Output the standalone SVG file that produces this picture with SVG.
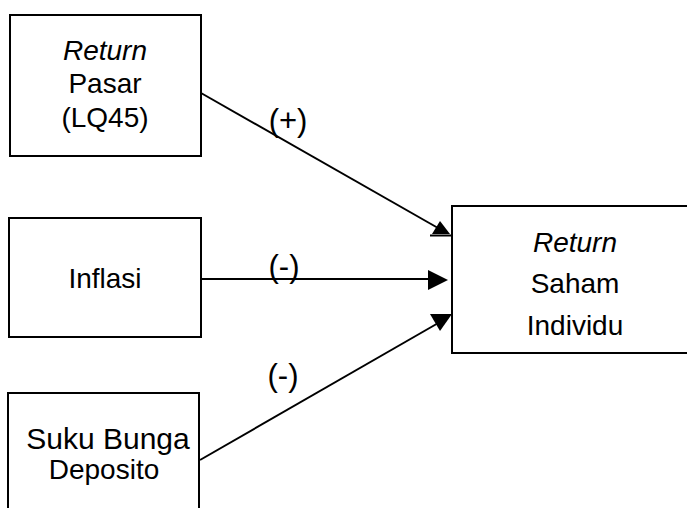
<svg xmlns="http://www.w3.org/2000/svg" width="687" height="508" viewBox="0 0 687 508">
<style>
.box{fill:#fff;stroke:#000;stroke-width:2}
.t{font-family:"Liberation Sans",Arial,sans-serif;font-size:28px;fill:#000;text-anchor:middle}
.i{font-style:italic}
.lbl{font-family:"Liberation Sans",Arial,sans-serif;font-size:31px;fill:#000;text-anchor:middle}
.ln{stroke:#000;stroke-width:2;fill:none}
.ah{fill:#000;stroke:none}
</style>
<rect width="687" height="508" fill="#fff"/>
<g id="node-return-pasar">
<rect class="box" x="10" y="15" width="191" height="141"/>
<text class="t i" x="105" y="60">Return</text>
<text class="t" x="105" y="93">Pasar</text>
<text class="t" x="105" y="127">(LQ45)</text>
</g>
<g id="node-inflasi">
<rect class="box" x="9" y="218" width="192" height="119"/>
<text class="t" x="105" y="288">Inflasi</text>
</g>
<g id="node-suku-bunga">
<rect class="box" x="8" y="393" width="191" height="130"/>
<text class="t" x="108" y="449" style="font-size:30px">Suku Bunga</text>
<text class="t" x="104" y="479">Deposito</text>
</g>
<g id="node-return-saham">
<rect class="box" x="452" y="206" width="250" height="147"/>
<text class="t i" x="575" y="252">Return</text>
<text class="t" x="575" y="293">Saham</text>
<text class="t" x="575" y="335">Individu</text>
</g>
<g id="connectors">
<line class="ln" x1="201" y1="93" x2="438" y2="228"/>
<polygon class="ah" points="440,221 432,234 450,234"/>
<line class="ln" x1="430" y1="235.5" x2="452" y2="235.5"/>
<text class="lbl" x="288" y="131">(+)</text>
<line class="ln" x1="201" y1="279" x2="432" y2="279"/>
<polygon class="ah" points="428,270 448,280 428,290"/>
<text class="lbl" x="284" y="277">(-)</text>
<line class="ln" x1="200" y1="460" x2="440" y2="322"/>
<polygon class="ah" points="430,314 452,314 440,331"/>
<text class="lbl" x="283" y="386">(-)</text>
</g>
</svg>
